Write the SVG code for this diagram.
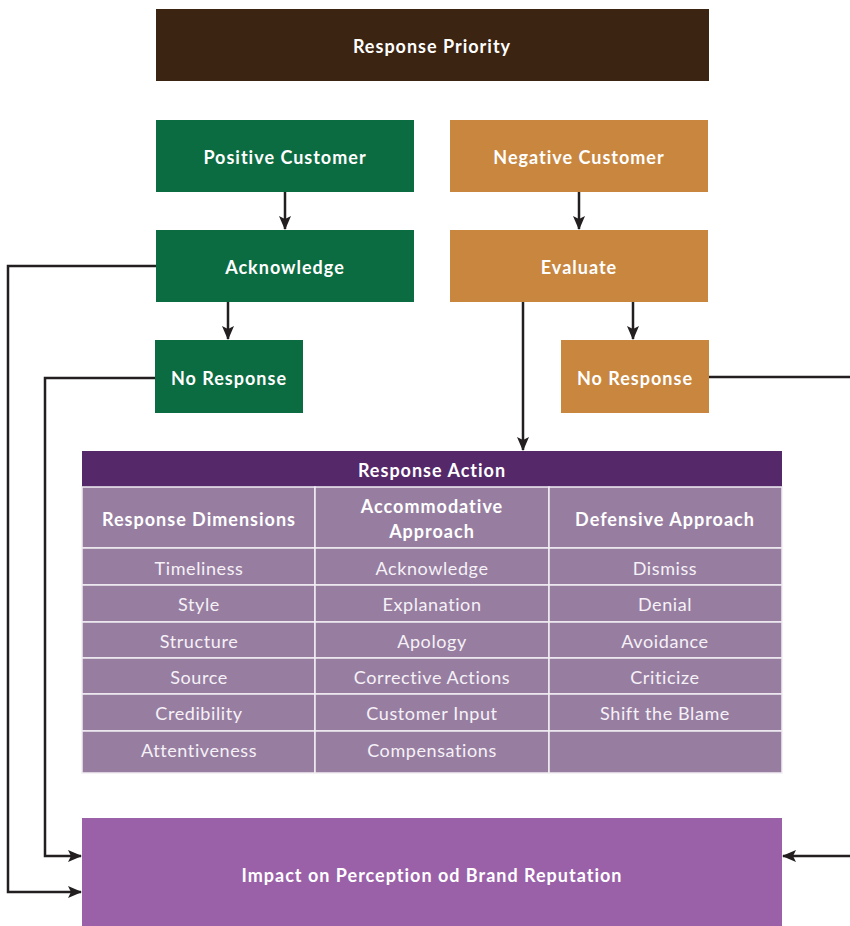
<svg xmlns="http://www.w3.org/2000/svg" width="850" height="926" viewBox="0 0 850 926">
<style>
text{font-family:Lato,"Liberation Sans",sans-serif;fill:#fff;text-anchor:middle;dominant-baseline:central}
.b{font-weight:bold;font-size:18px;letter-spacing:1px}
.c{font-size:18px;fill:#f6f1f7;letter-spacing:0.6px}
.h{font-weight:bold;font-size:18px;letter-spacing:1px}
.cell{fill:#977ea1;stroke:#f2eef4;stroke-width:1.5}
.ln{fill:none;stroke:#231f20;stroke-width:2.5}
</style>
<defs>
<marker id="ah" markerWidth="14" markerHeight="12" refX="13" refY="6" orient="auto" markerUnits="userSpaceOnUse">
<path d="M0,0 L14,6 L0,12 L3,6 Z" fill="#231f20"/>
</marker>
</defs>
<rect width="850" height="926" fill="#fff"/>
<g id="response-priority"><rect x="156" y="9" width="553" height="72" fill="#3b2412"/><text class="b" x="432" y="46">Response Priority</text></g>
<g id="positive-customer"><rect x="156" y="120" width="258" height="72" fill="#0b6b41"/><text class="b" x="285" y="157">Positive Customer</text></g>
<g id="negative-customer"><rect x="450" y="120" width="258" height="72" fill="#c8863f"/><text class="b" x="579" y="157">Negative Customer</text></g>
<g id="acknowledge"><rect x="156" y="230" width="258" height="72" fill="#0b6b41"/><text class="b" x="285" y="267">Acknowledge</text></g>
<g id="evaluate"><rect x="450" y="230" width="258" height="72" fill="#c8863f"/><text class="b" x="579" y="267">Evaluate</text></g>
<g id="no-response-positive"><rect x="155" y="340" width="148" height="73" fill="#0b6b41"/><text class="b" x="229" y="378">No Response</text></g>
<g id="no-response-negative"><rect x="561" y="340" width="148" height="73" fill="#c8863f"/><text class="b" x="635" y="378">No Response</text></g>
<g id="response-action">
<rect x="82" y="451" width="700" height="36" fill="#55286a"/>
<text class="h" x="432" y="470">Response Action</text>
<rect class="cell" x="82" y="487" width="233" height="61"/><rect class="cell" x="315" y="487" width="234" height="61"/><rect class="cell" x="549" y="487" width="233" height="61"/>
<text class="h" x="199" y="519">Response Dimensions</text>
<text class="h" x="432" y="506">Accommodative</text><text class="h" x="432" y="531">Approach</text>
<text class="h" x="665" y="519">Defensive Approach</text>
<rect class="cell" x="82" y="548" width="233" height="37"/><rect class="cell" x="315" y="548" width="234" height="37"/><rect class="cell" x="549" y="548" width="233" height="37"/>
<rect class="cell" x="82" y="585" width="233" height="37"/><rect class="cell" x="315" y="585" width="234" height="37"/><rect class="cell" x="549" y="585" width="233" height="37"/>
<rect class="cell" x="82" y="622" width="233" height="36"/><rect class="cell" x="315" y="622" width="234" height="36"/><rect class="cell" x="549" y="622" width="233" height="36"/>
<rect class="cell" x="82" y="658" width="233" height="36"/><rect class="cell" x="315" y="658" width="234" height="36"/><rect class="cell" x="549" y="658" width="233" height="36"/>
<rect class="cell" x="82" y="694" width="233" height="37"/><rect class="cell" x="315" y="694" width="234" height="37"/><rect class="cell" x="549" y="694" width="233" height="37"/>
<rect class="cell" x="82" y="731" width="233" height="42"/><rect class="cell" x="315" y="731" width="234" height="42"/><rect class="cell" x="549" y="731" width="233" height="42"/>
<text class="c" x="199" y="568">Timeliness</text><text class="c" x="432" y="568">Acknowledge</text><text class="c" x="665" y="568">Dismiss</text>
<text class="c" x="199" y="604">Style</text><text class="c" x="432" y="604">Explanation</text><text class="c" x="665" y="604">Denial</text>
<text class="c" x="199" y="641">Structure</text><text class="c" x="432" y="641">Apology</text><text class="c" x="665" y="641">Avoidance</text>
<text class="c" x="199" y="677">Source</text><text class="c" x="432" y="677">Corrective Actions</text><text class="c" x="665" y="677">Criticize</text>
<text class="c" x="199" y="713">Credibility</text><text class="c" x="432" y="713">Customer Input</text><text class="c" x="665" y="713">Shift the Blame</text>
<text class="c" x="199" y="750">Attentiveness</text><text class="c" x="432" y="750">Compensations</text>
</g>
<g id="impact"><rect x="82" y="818" width="700" height="108" fill="#9a61a8"/><text class="b" x="432" y="875">Impact on Perception od Brand Reputation</text></g>
<g id="connectors">
<path class="ln" d="M285,192 V229" marker-end="url(#ah)"/>
<path class="ln" d="M579,192 V229" marker-end="url(#ah)"/>
<path class="ln" d="M228,302 V339" marker-end="url(#ah)"/>
<path class="ln" d="M633,302 V339" marker-end="url(#ah)"/>
<path class="ln" d="M523,302 V450" marker-end="url(#ah)"/>
<path class="ln" d="M156,266 H8 V892 H81" marker-end="url(#ah)"/>
<path class="ln" d="M155,378 H45 V856 H81" marker-end="url(#ah)"/>
<path class="ln" d="M709,377 H852"/>
<path class="ln" d="M852,856 H783" marker-end="url(#ah)"/>
</g>
</svg>
